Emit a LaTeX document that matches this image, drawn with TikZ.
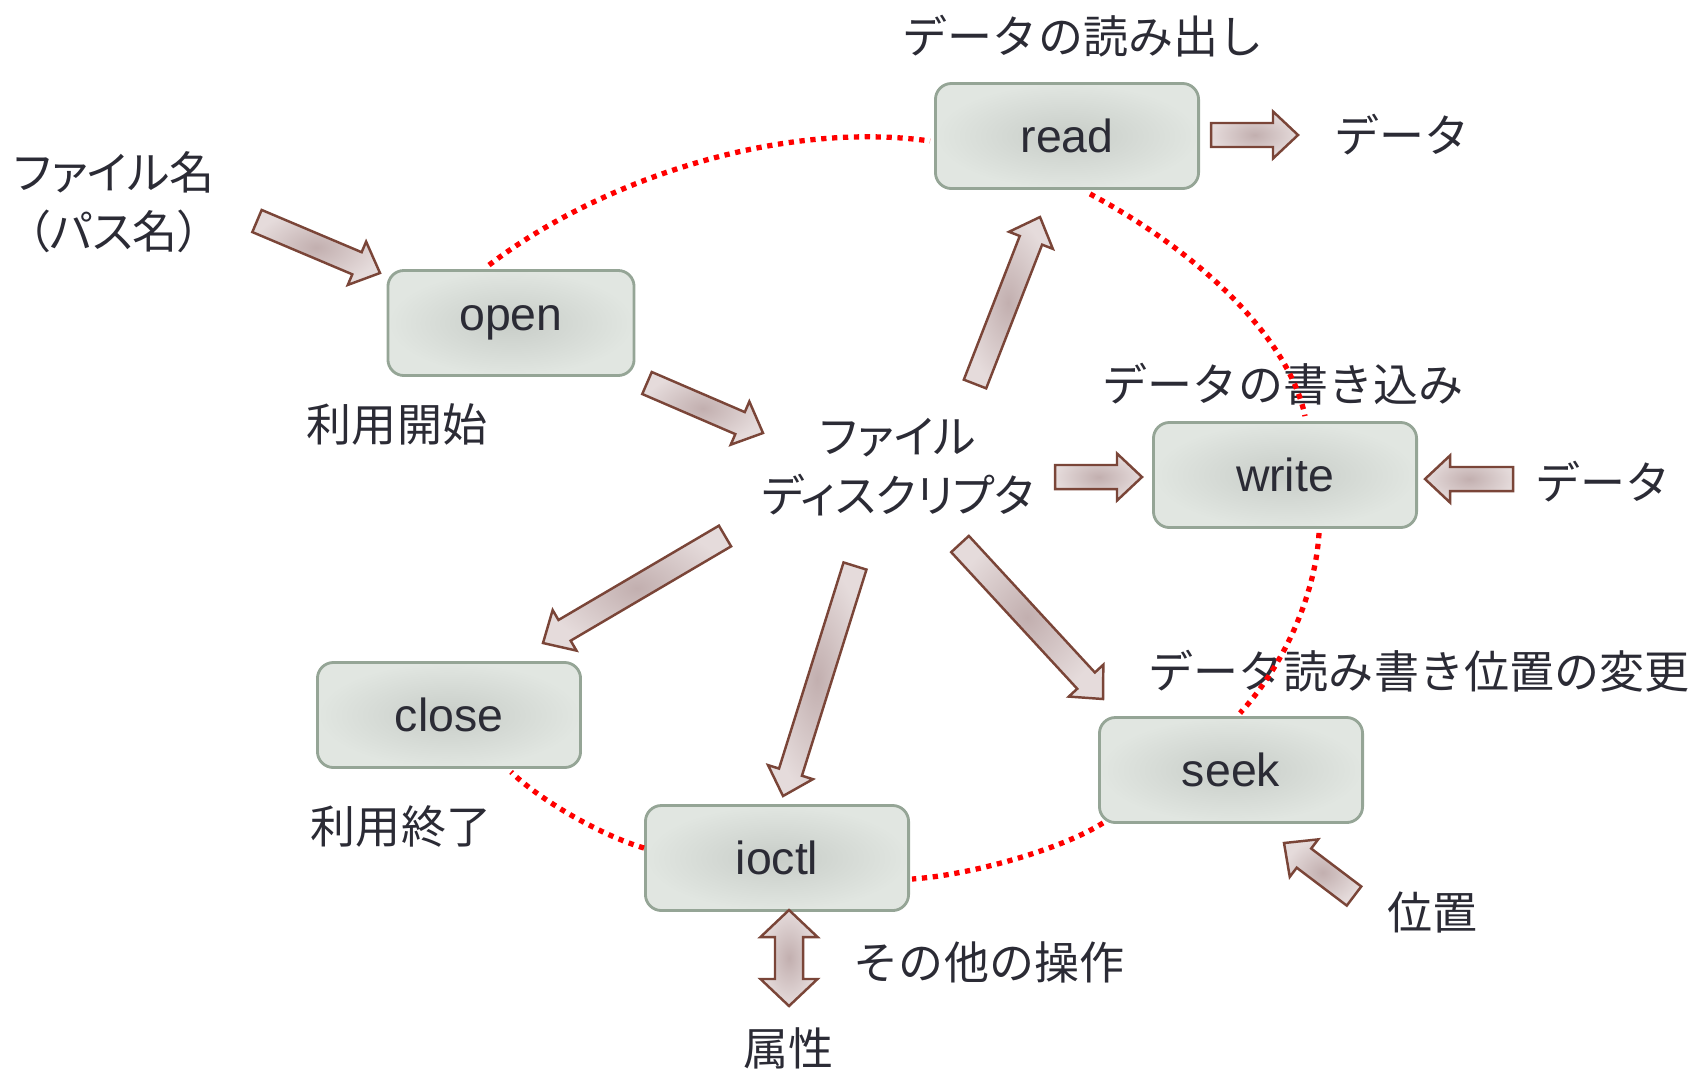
\documentclass[tikz,border=0pt]{standalone}
\usepackage{fontspec}
\setmainfont{Liberation Sans}
\newfontfamily\jp{Noto Sans CJK JP}
\newfontfamily\jpp[RawFeature=+palt]{Noto Sans CJK JP}
\usetikzlibrary{calc}

\definecolor{boxin}{HTML}{C8CDC8}
\definecolor{boxout}{HTML}{E1E6E1}
\definecolor{boxline}{HTML}{95A596}
\definecolor{arrin}{HTML}{C2AFAF}
\definecolor{arrout}{HTML}{E5DBDB}
\definecolor{arrline}{HTML}{7A4538}
\definecolor{ink}{HTML}{2B2B35}

% fat arrow from #1 to #2
\newcommand\fatarrow[2]{%
  \path ($(#2)!0.25cm!(#1)$) coordinate (hb);
  \draw[fat] ($(#1)!0.12cm!90:(#2)$) -- ($(hb)!0.12cm!90:(#2)$) -- ($(hb)!0.235cm!90:(#2)$) -- (#2)
    -- ($(hb)!0.235cm!-90:(#2)$) -- ($(hb)!0.12cm!-90:(#2)$) -- ($(#1)!0.12cm!-90:(#2)$) -- cycle;
}
% fat arrow with a head at both ends
\newcommand\twoarrow[2]{%
  \path ($(#1)!0.27cm!(#2)$) coordinate (ha) ($(#2)!0.27cm!(#1)$) coordinate (hb);
  \draw[fat] (#1) -- ($(ha)!0.285cm!90:(#1)$) -- ($(ha)!0.14cm!90:(#1)$) -- ($(hb)!0.14cm!-90:(#2)$)
    -- ($(hb)!0.285cm!-90:(#2)$) -- (#2) -- ($(hb)!0.285cm!90:(#2)$) -- ($(hb)!0.14cm!90:(#2)$)
    -- ($(ha)!0.14cm!-90:(#1)$) -- ($(ha)!0.285cm!-90:(#1)$) -- cycle;
}

\begin{document}
\begin{tikzpicture}[x=0.01cm, y=-0.01cm,
    box/.style={draw=boxline, line width=0.8pt, rounded corners=0.16cm, inner color=boxin, outer color=boxout,
                minimum width=2.63cm, minimum height=1.05cm, text=ink, font=\fontsize{13.2}{16}\selectfont},
    lbl/.style={text=ink, inner sep=0pt, font=\jp\fontsize{12.8}{16.8}\selectfont},
    fat/.style={draw=arrline, line width=0.7pt, inner color=arrin, outer color=arrout},
    ring/.style={red, line width=1.5pt, dash pattern=on 1.5pt off 1.6pt}]
  \useasboundingbox (0,0) rectangle (1698,1072);

  % the calls
  \node[box] (read) at (1067,136) {read};
  \node[box, minimum width=2.46cm] (open) at (511,323) {open};
  \node[box] (write) at (1285,475) {write};
  \node[box] (close) at (449,715) {close};
  \node[box] (ioctl) at (777,858) {ioctl};
  \node[box] (seek) at (1231,770) {seek};
  \node[lbl, align=center, font=\jpp\fontsize{12.8}{16.8}\selectfont] (fd) at (898,467) {ファイル\\ディスクリプタ};

  % texts
  \node[lbl] (readcap) at (1083,36) {データの読み出し};
  \node[lbl] (readout) at (1402,135) {データ};
  \node[lbl, align=center, font=\jpp\fontsize{12.8}{16.8}\selectfont] (fname) at (114,202) {ファイル名\\（パス名）};
  \node[lbl] (opencap) at (397,424) {利用開始};
  \node[lbl] (writecap) at (1283,384) {データの書き込み};
  \node[lbl] (writein) at (1603,482) {データ};
  \node[lbl] (seekcap) at (1419,671) {データ読み書き位置の変更};
  \node[lbl] (closecap) at (401,826) {利用終了};
  \node[lbl] (ioctlcap) at (989,962) {その他の操作};
  \node[lbl] (attr) at (788,1048) {属性};
  \node[lbl] (pos) at (1432,912) {位置};

  % red dotted ring
  \draw[ring] ($(open.north)+(-22,-4)$) .. controls (600,180) and (780,120) .. ($(read.west)+(-4,5)$);
  \draw[ring] ($(read.south)+(23,4)$) .. controls (1195,250) and (1288,335) .. ($(write.north)+(20,-5)$);
  \draw[ring] ($(write.south)+(34,4)$) .. controls (1315,600) and (1280,670) .. ($(seek.north)+(9,-3)$);
  \draw[ring] ($(seek.south west)+(5,-1)$) .. controls (1060,850) and (970,875) .. ($(ioctl.east)+(2,21)$);
  \draw[ring] ($(ioctl.west)+(0,-10)$) .. controls (600,835) and (540,800) .. ($(close.south)+(62,3)$);

  % arrow ends
  \coordinate (fn-t) at (257,221);   \coordinate (fn-h) at (380,273);
  \coordinate (op-t) at (647,383);   \coordinate (op-h) at (763,433);
  \coordinate (rd-t) at (975,384);   \coordinate (rd-h) at (1040,217);
  \coordinate (ro-t) at (1211,135);  \coordinate (ro-h) at (1298,135);
  \coordinate (wr-t) at (1055,477);  \coordinate (wr-h) at (1142,477);
  \coordinate (wi-t) at (1513,479);  \coordinate (wi-h) at (1425,479);
  \coordinate (cl-t) at (725,536);   \coordinate (cl-h) at (543,643);
  \coordinate (io-t) at (855,566);   \coordinate (io-h) at (783,796);
  \coordinate (sk-t) at (960,544);   \coordinate (sk-h) at (1103,699);
  \coordinate (ps-t) at (1354,896);  \coordinate (ps-h) at (1284,843);
  \coordinate (at-a) at (789,910);   \coordinate (at-b) at (789,1006);

  \fatarrow{fn-t}{fn-h}
  \fatarrow{op-t}{op-h}
  \fatarrow{rd-t}{rd-h}
  \fatarrow{ro-t}{ro-h}
  \fatarrow{wr-t}{wr-h}
  \fatarrow{wi-t}{wi-h}
  \fatarrow{cl-t}{cl-h}
  \fatarrow{io-t}{io-h}
  \fatarrow{sk-t}{sk-h}
  \fatarrow{ps-t}{ps-h}
  \twoarrow{at-a}{at-b}
\end{tikzpicture}
\end{document}
